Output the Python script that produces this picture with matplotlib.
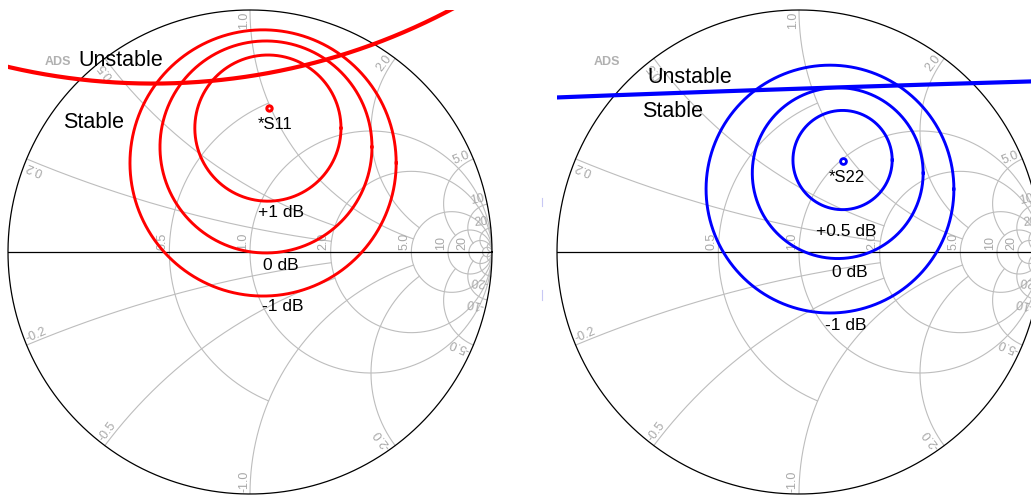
import numpy as np
import matplotlib.pyplot as plt
from matplotlib.lines import Line2D

plt.rcParams['font.family'] = ['Liberation Sans', 'DejaVu Sans']

# smith grid: resistance circles (limit = max |x| drawn), reactance arcs (limit = max r drawn)
r_values = [0.5, 1.0, 2.0, 5.0, 10, 20, 50]
r_xlimit = [1.0, None, None, None, None, None, None]
r_labels = ['0.5', '1.0', '2.0', '5.0', '10', '20', '']
x_values = [0.2, 0.5, 1.0, 2.0, 5.0, 10, 20, 50]
x_rlimit = [2.0, 2.0, 5.0, 5.0, 10, 20, 50, None]
x_labels = ['0.2', '0.5', '1.0', '2.0', '5.0', '10', '20', '']

# S11 side (left chart), reflection coefficient plane
s11_point = (0.078, 0.595)
s11_gain_labels = ['+1 dB', '0 dB', '-1 dB']
s11_gain_center = [(0.074, 0.512), (0.066, 0.434), (0.054, 0.368)]
s11_gain_radius = [0.302, 0.438, 0.550]
s11_stab_center = (-0.401, 3.329)
s11_stab_radius = 2.633

# S22 side (right chart)
s22_point = (0.182, 0.376)
s22_gain_labels = ['+0.5 dB', '0 dB', '-1 dB']
s22_gain_center = [(0.180, 0.380), (0.160, 0.326), (0.128, 0.260)]
s22_gain_radius = [0.205, 0.353, 0.512]
s22_stab_center = (6.726, -199.212)
s22_stab_radius = 200.0

GRID = '#bdbdbd'
LBL = '#a8a8a8'


def gamma(z):
    return (z - 1) / (z + 1)


def circle(ax, c, rad, **kw):
    t = np.linspace(0, 2 * np.pi, 20001)
    ax.plot(c[0] + rad * np.cos(t), c[1] + rad * np.sin(t), **kw)


def smith(ax):
    ax.set_xlim(-1, 1)
    ax.set_ylim(-1, 1)
    ax.axis('off')
    # resistance circles
    for r, xl, lab in zip(r_values, r_xlimit, r_labels):
        if xl is None:
            circle(ax, (r / (r + 1), 0), 1 / (r + 1), color=GRID, lw=0.8, zorder=1)
        else:
            x = np.linspace(-xl, xl, 400)
            g = gamma(r + 1j * x)
            ax.plot(g.real, g.imag, color=GRID, lw=0.8, zorder=1)
        if lab:
            ax.text((r - 1) / (r + 1) - 0.004, 0.01, lab, rotation=90, ha='left', va='bottom',
                    rotation_mode='anchor', fontsize=9, color=LBL)
    # reactance arcs
    for xv, rl, lab in zip(x_values, x_rlimit, x_labels):
        top = np.pi / 2 - 1e-4 if rl is None else np.arctan(rl)
        rr = np.tan(np.linspace(0, top, 500))
        for s in (1, -1):
            g = gamma(rr + 1j * s * xv)
            ax.plot(g.real, g.imag, color=GRID, lw=0.8, zorder=1)
            if lab:
                p = gamma(1j * s * xv) * 0.992
                th = np.degrees(np.angle(p))
                if s > 0:
                    ax.text(p.real, p.imag, lab, rotation=th, ha='right', va='bottom',
                            rotation_mode='anchor', fontsize=9, color=LBL)
                else:
                    ax.text(p.real, p.imag, '-' + lab, rotation=th + 180, ha='left', va='bottom',
                            rotation_mode='anchor', fontsize=9, color=LBL)
    circle(ax, (0, 0), 1, color='black', lw=0.9, zorder=2, clip_on=False)
    ax.plot([-1, 1], [0, 0], color='black', lw=0.9, zorder=2)
    ax.text(-0.793, 0.785, 'ADS', fontsize=9, fontweight='bold', color='#b0b0b0',
            ha='center', va='center')


fig = plt.figure(figsize=(10.31, 4.96), dpi=100)
ax1 = fig.add_axes([8 / 1031, 2 / 496, 484 / 1031, 484 / 496])
ax2 = fig.add_axes([557 / 1031, 2 / 496, 484 / 1031, 484 / 496])

# left chart
smith(ax1)
for c, rad in zip(s11_gain_center, s11_gain_radius):
    circle(ax1, c, rad, color='red', lw=2.1, zorder=3)
circle(ax1, s11_stab_center, s11_stab_radius, color='red', lw=3.0, zorder=3)
ax1.plot(*s11_point, 'o', ms=3.8, mfc='white', mec='red', mew=2.2, zorder=4)
ax1.text(-0.711, 0.793, 'Unstable', fontsize=15.5, ha='left', va='center')
ax1.text(-0.773, 0.537, 'Stable', fontsize=15.5, ha='left', va='center')
ax1.text(0.033, 0.525, '*S11', fontsize=12, ha='left', va='center')
for lab, pos in zip(s11_gain_labels, [(0.128, 0.165), (0.128, -0.054), (0.136, -0.227)]):
    ax1.text(pos[0], pos[1], lab, fontsize=12.5, ha='center', va='center')

# right chart
smith(ax2)
for c, rad in zip(s22_gain_center, s22_gain_radius):
    circle(ax2, c, rad, color='blue', lw=2.1, zorder=3)
circle(ax2, s22_stab_center, s22_stab_radius, color='blue', lw=3.0, zorder=3)
ax2.plot(*s22_point, 'o', ms=4.2, mfc='white', mec='blue', mew=2.0, zorder=4)
ax2.text(-0.628, 0.723, 'Unstable', fontsize=15.5, ha='left', va='center')
ax2.text(-0.649, 0.579, 'Stable', fontsize=15.5, ha='left', va='center')
ax2.text(0.124, 0.306, '*S22', fontsize=12, ha='left', va='center')
for lab, pos in zip(s22_gain_labels, [(0.194, 0.083), (0.211, -0.083), (0.194, -0.302)]):
    ax2.text(pos[0], pos[1], lab, fontsize=12.5, ha='center', va='center')

# two faint marks between the charts
for y0, y1 in [(198, 206), (290, 300)]:
    fig.add_artist(Line2D([542 / 1031, 542 / 1031], [1 - y0 / 496, 1 - y1 / 496],
                          color='#c8c8f4', lw=0.8))

fig.savefig('out.png', dpi=100)
